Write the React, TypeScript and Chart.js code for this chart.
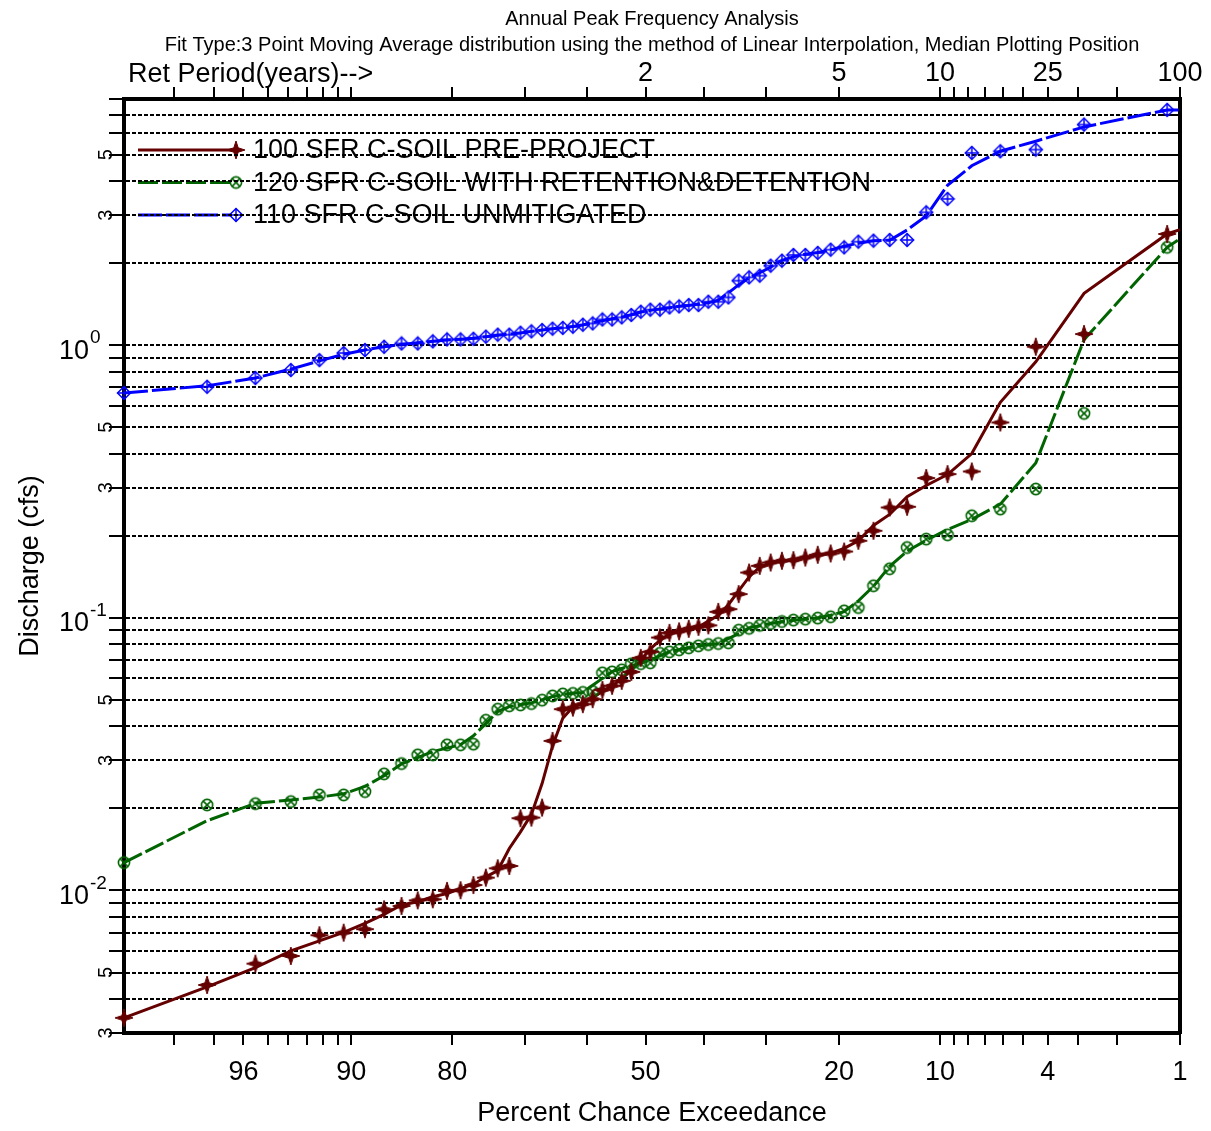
import React, { useEffect, useRef } from 'react';
import { Chart, registerables, LinearScale } from 'chart.js';

// ---------------- data ----------------
const exceedancePct = [
  98.841, 97.185, 95.530, 93.874, 92.219, 90.563, 88.907, 87.252, 85.596, 83.940,
  82.285, 80.629, 78.974, 77.318, 75.662, 74.007, 72.351, 70.695, 69.040, 67.384,
  65.728, 64.073, 62.417, 60.762, 59.106, 57.450, 55.795, 54.139, 52.483, 50.828,
  49.172, 47.517, 45.861, 44.205, 42.550, 40.894, 39.238, 37.583, 35.927, 34.272,
  32.616, 30.960, 29.305, 27.649, 25.993, 24.338, 22.682, 21.026, 19.371, 17.715,
  16.060, 14.404, 12.748, 11.093, 9.437, 7.781, 6.126, 4.470, 2.815, 1.159,
];
const fitEndPct = 1;

const preProject = [
  0.00341, 0.00450, 0.00539, 0.00575, 0.00685, 0.00700, 0.00721, 0.00853, 0.00877, 0.00920,
  0.00928, 0.00996, 0.01002, 0.01047, 0.01114, 0.01206, 0.01230, 0.01841, 0.01850, 0.02013,
  0.03537, 0.04624, 0.04686, 0.04823, 0.05031, 0.05441, 0.05629, 0.05872, 0.06335, 0.07131,
  0.07503, 0.08467, 0.08810, 0.08922, 0.09114, 0.09268, 0.09387, 0.1052, 0.1076, 0.1222,
  0.1466, 0.1551, 0.1595, 0.1619, 0.1628, 0.1664, 0.1703, 0.1722, 0.1751, 0.1917,
  0.2086, 0.2540, 0.2555, 0.3256, 0.3367, 0.3442, 0.5208, 0.9874, 1.099, 2.559,
];
const preProjectFit = [
  0.00341, 0.00443, 0.00521, 0.00600, 0.00653, 0.00702, 0.00758, 0.00817, 0.00884, 0.00909,
  0.00948, 0.00975, 0.01015, 0.01054, 0.01122, 0.01183, 0.01426, 0.01640, 0.01901, 0.02467,
  0.03391, 0.04282, 0.04711, 0.04847, 0.05098, 0.05367, 0.05647, 0.05945, 0.06446, 0.06990,
  0.07700, 0.08260, 0.08733, 0.08949, 0.09101, 0.09256, 0.09725, 0.1022, 0.1117, 0.1255,
  0.1413, 0.1537, 0.1588, 0.1614, 0.1637, 0.1665, 0.1696, 0.1725, 0.1797, 0.1918,
  0.2181, 0.2394, 0.2784, 0.3059, 0.3355, 0.4006, 0.6175, 0.8691, 1.549, 2.559, 2.654,
];

const retentionDetention = [
  0.01265, 0.02060, 0.02082, 0.02118, 0.02241, 0.02241, 0.02305, 0.02677, 0.02920, 0.03143,
  0.03143, 0.03420, 0.03420, 0.03440, 0.04212, 0.04624, 0.04754, 0.04794, 0.04847, 0.04988,
  0.05172, 0.05260, 0.05282, 0.05327, 0.05373, 0.06282, 0.06335, 0.06444, 0.06780, 0.06790,
  0.06838, 0.07409, 0.07503, 0.07631, 0.07761, 0.07893, 0.07980, 0.08048, 0.08097, 0.09013,
  0.09151, 0.09387, 0.09531, 0.09692, 0.09808, 0.09890, 0.09975, 0.1009, 0.1061, 0.1091,
  0.1311, 0.1513, 0.1811, 0.1944, 0.2016, 0.2367, 0.2505, 0.2967, 0.5620, 2.285,
];
const retentionDetentionFit = [
  0.01265, 0.01802, 0.02087, 0.02147, 0.02200, 0.02262, 0.02408, 0.02634, 0.02913, 0.03069,
  0.03235, 0.03328, 0.03427, 0.03691, 0.04092, 0.04530, 0.04724, 0.04798, 0.04876, 0.05002,
  0.05140, 0.05238, 0.05290, 0.05327, 0.05661, 0.05997, 0.06354, 0.06520, 0.06671, 0.06803,
  0.07012, 0.07250, 0.07514, 0.07632, 0.07762, 0.07878, 0.07974, 0.08042, 0.08386, 0.08754,
  0.09184, 0.09356, 0.09537, 0.09677, 0.09797, 0.09891, 0.09985, 0.1023, 0.1054, 0.1154,
  0.1305, 0.1545, 0.1756, 0.1924, 0.2109, 0.2296, 0.2613, 0.3697, 1.048, 2.285, 2.459,
];

const unmitigated = [
  0.668, 0.704, 0.758, 0.811, 0.882, 0.936, 0.960, 0.987, 1.015, 1.015,
  1.033, 1.050, 1.050, 1.056, 1.075, 1.093, 1.093, 1.111, 1.124, 1.137,
  1.150, 1.157, 1.169, 1.189, 1.202, 1.243, 1.243, 1.265, 1.291, 1.327,
  1.350, 1.350, 1.376, 1.388, 1.404, 1.404, 1.444, 1.444, 1.497, 1.725,
  1.774, 1.799, 1.958, 2.042, 2.143, 2.143, 2.180, 2.241, 2.285, 2.398,
  2.418, 2.432, 2.432, 3.072, 3.440, 5.074, 5.143, 5.217, 6.446, 7.296,
];
const unmitigatedFit = [
  0.668, 0.710, 0.758, 0.817, 0.876, 0.926, 0.961, 0.987, 1.006, 1.021,
  1.033, 1.044, 1.052, 1.060, 1.075, 1.087, 1.099, 1.109, 1.124, 1.137,
  1.148, 1.159, 1.172, 1.187, 1.211, 1.229, 1.250, 1.266, 1.294, 1.323,
  1.342, 1.359, 1.371, 1.389, 1.399, 1.417, 1.431, 1.462, 1.555, 1.665,
  1.766, 1.844, 1.933, 2.048, 2.109, 2.155, 2.188, 2.235, 2.308, 2.367,
  2.416, 2.427, 2.645, 2.981, 3.862, 4.552, 5.145, 5.602, 6.320, 7.296, 7.296,
];

const seriesNames = [
  '100 SFR C-SOIL PRE-PROJECT',
  '120 SFR C-SOIL WITH RETENTION&DETENTION',
  '110 SFR C-SOIL UNMITIGATED',
];

const xTickPct = [98, 97, 96, 95, 94, 93, 92, 91, 90, 80, 70, 60, 50, 40, 30, 20, 10, 9, 8, 7, 6, 5, 4, 3, 2, 1];
const bottomLabelPct = [96, 90, 80, 50, 20, 10, 4, 1];
const topLabelPct = [50, 20, 10, 4, 1];
const topLabels = ['2', '5', '10', '25', '100'];
const yTickValues = [
  0.003, 0.004, 0.005, 0.006, 0.007, 0.008, 0.009,
  0.01, 0.02, 0.03, 0.04, 0.05, 0.06, 0.07, 0.08, 0.09,
  0.1, 0.2, 0.3, 0.4, 0.5, 0.6, 0.7, 0.8, 0.9,
  1, 2, 3, 4, 5, 6, 7, 8,
];
const yDecadeValues = [0.01, 0.1, 1];
const yDecadeExponents = ['-2', '-1', '0'];
const yMinorLabelValues = [0.003, 0.005, 0.03, 0.05, 0.3, 0.5, 3, 5];
const yMinorLabels = ['3', '5', '3', '5', '3', '5', '3', '5'];

const titleLines = [
  'Annual Peak Frequency Analysis',
  'Fit Type:3 Point Moving Average distribution using the method of Linear Interpolation, Median Plotting Position',
];

// ---------------- styling ----------------
const FONT = '"Liberation Sans", Arial, Helvetica, sans-serif';
const RED = '#640000';
const GREEN = '#006400';
const BLUE = '#0000ff';
const GREEN_DASH = [20, 4];
const BLUE_DASH = [24, 4];

// ---------------- probability scale ----------------
function probit(p: number): number {
  const a = [-3.969683028665376e1, 2.209460984245205e2, -2.759285104469687e2, 1.38357751867269e2, -3.066479806614716e1, 2.506628277459239];
  const b = [-5.447609879822406e1, 1.615858368580409e2, -1.556989798598866e2, 6.680131188771972e1, -1.328068155288572e1];
  const c = [-7.784894002430293e-3, -3.223964580411365e-1, -2.400758277161838, -2.549732539343734, 4.374664141464968, 2.938163982698783];
  const d = [7.784695709041462e-3, 3.224671290700398e-1, 2.445134137142996, 3.754408661907416];
  const pl = 0.02425;
  if (p < pl) {
    const q = Math.sqrt(-2 * Math.log(p));
    return (((((c[0] * q + c[1]) * q + c[2]) * q + c[3]) * q + c[4]) * q + c[5]) / ((((d[0] * q + d[1]) * q + d[2]) * q + d[3]) * q + 1);
  }
  if (p > 1 - pl) {
    const q = Math.sqrt(-2 * Math.log(1 - p));
    return -(((((c[0] * q + c[1]) * q + c[2]) * q + c[3]) * q + c[4]) * q + c[5]) / ((((d[0] * q + d[1]) * q + d[2]) * q + d[3]) * q + 1);
  }
  const q = p - 0.5;
  const r = q * q;
  return ((((((a[0] * r + a[1]) * r + a[2]) * r + a[3]) * r + a[4]) * r + a[5]) * q) / (((((b[0] * r + b[1]) * r + b[2]) * r + b[3]) * r + b[4]) * r + 1);
}
const zOf = (pct: number) => probit(1 - pct / 100);

class ProbabilityScale extends (LinearScale as any) {
  static id = 'probability';
  static defaults = {};
  determineDataLimits() {
    this.min = this.options.min;
    this.max = this.options.max;
  }
  buildTicks() {
    return xTickPct.map((v) => ({ value: v }));
  }
  getPixelForValue(value: number) {
    const zl = zOf(this.max);
    const zr = zOf(this.min);
    return this.left + ((zOf(value) - zl) / (zr - zl)) * this.width;
  }
  getValueForPixel() {
    return 50;
  }
}

Chart.register(...registerables, ProbabilityScale as any);
Chart.defaults.font.family = FONT;

// ---------------- markers ----------------
function makeStar(color: string) {
  const cv = document.createElement('canvas');
  cv.width = 22; cv.height = 22;
  const g = cv.getContext('2d')!;
  g.translate(11, 11);
  g.fillStyle = color; g.strokeStyle = color; g.lineWidth = 1;
  const R = 9, r = 2.2;
  g.beginPath();
  g.moveTo(0, -R); g.lineTo(r, -r); g.lineTo(R, 0); g.lineTo(r, r);
  g.lineTo(0, R); g.lineTo(-r, r); g.lineTo(-R, 0); g.lineTo(-r, -r);
  g.closePath(); g.fill(); g.stroke();
  return cv;
}
function makeCircleX(color: string) {
  const cv = document.createElement('canvas');
  cv.width = 16; cv.height = 16;
  const g = cv.getContext('2d')!;
  g.translate(8, 8);
  g.strokeStyle = color; g.lineWidth = 1.6;
  g.beginPath(); g.arc(0, 0, 5.6, 0, Math.PI * 2); g.stroke();
  const k = 3.9;
  g.beginPath(); g.moveTo(-k, -k); g.lineTo(k, k); g.moveTo(k, -k); g.lineTo(-k, k); g.stroke();
  return cv;
}
function makeDiamondPlus(color: string) {
  const cv = document.createElement('canvas');
  cv.width = 16; cv.height = 16;
  const g = cv.getContext('2d')!;
  g.translate(8, 8);
  g.strokeStyle = color; g.lineWidth = 1.5;
  const h = 6.5;
  g.beginPath(); g.moveTo(0, -h); g.lineTo(h, 0); g.lineTo(0, h); g.lineTo(-h, 0); g.closePath(); g.stroke();
  g.beginPath(); g.moveTo(0, -h); g.lineTo(0, h); g.moveTo(-h, 0); g.lineTo(h, 0); g.stroke();
  return cv;
}

// ---------------- plugins ----------------
const legendPlugin = {
  id: 'insideLegend',
  beforeDraw(chart: any) {
    const { ctx, chartArea } = chart;
    const items = (chart.$legendItems || []) as any[];
    ctx.save();
    items.forEach((it, i) => {
      const y = chartArea.top + 51 + i * 32.5;
      ctx.strokeStyle = it.color;
      ctx.lineWidth = 3;
      ctx.setLineDash(it.dash);
      ctx.beginPath();
      ctx.moveTo(chartArea.left + 14, y);
      ctx.lineTo(chartArea.left + 108, y);
      ctx.stroke();
      ctx.setLineDash([]);
      const m = it.marker as HTMLCanvasElement;
      ctx.drawImage(m, chartArea.left + 112 - m.width / 2, y - m.height / 2);
      ctx.fillStyle = '#000';
      ctx.font = `27px ${FONT}`;
      ctx.textAlign = 'left';
      ctx.textBaseline = 'middle';
      ctx.fillText(it.text, chartArea.left + 129, y + 1);
    });
    ctx.restore();
  },
};

const axisTextPlugin = {
  id: 'axisText',
  afterDraw(chart: any) {
    const { ctx, chartArea } = chart;
    const ys = chart.scales.y;
    ctx.save();
    ctx.fillStyle = '#000';
    yDecadeValues.forEach((v, i) => {
      const py = ys.getPixelForValue(v);
      ctx.font = `27px ${FONT}`;
      ctx.textAlign = 'right';
      ctx.textBaseline = 'middle';
      ctx.fillText('10', chartArea.left - 35, py + 6);
      ctx.font = `19px ${FONT}`;
      ctx.textAlign = 'left';
      ctx.fillText(yDecadeExponents[i], chartArea.left - 34, py - 7);
    });
    yMinorLabelValues.forEach((v, i) => {
      const py = ys.getPixelForValue(v);
      ctx.save();
      ctx.translate(chartArea.left - 18, py);
      ctx.rotate(-Math.PI / 2);
      ctx.font = `20px ${FONT}`;
      ctx.textAlign = 'center';
      ctx.textBaseline = 'middle';
      ctx.fillText(yMinorLabels[i], 0, 0);
      ctx.restore();
    });
    ctx.font = `27px ${FONT}`;
    ctx.textAlign = 'left';
    ctx.textBaseline = 'middle';
    ctx.fillText('Ret Period(years)-->', chartArea.left + 4, 75);
    ctx.restore();
  },
};

export default function App() {
  const ref = useRef<HTMLCanvasElement>(null);
  useEffect(() => {
    const star = makeStar(RED);
    const circ = makeCircleX(GREEN);
    const diam = makeDiamondPlus(BLUE);
    const fitX = [...exceedancePct, fitEndPct];
    const pts = (xs: number[], ys: number[]) => ys.map((y, i) => ({ x: xs[i], y }));

    const datasets: any[] = [
      { label: seriesNames[0], data: pts(exceedancePct, preProject), showLine: false, pointStyle: star, pointRadius: 8, order: 1, clip: false },
      { label: seriesNames[1], data: pts(exceedancePct, retentionDetention), showLine: false, pointStyle: circ, pointRadius: 6, order: 2, clip: false },
      { label: seriesNames[2], data: pts(exceedancePct, unmitigated), showLine: false, pointStyle: diam, pointRadius: 7, order: 3, clip: false },
      { label: seriesNames[0] + ' fit', data: pts(fitX, preProjectFit), showLine: true, borderColor: RED, borderWidth: 3, pointRadius: 0, tension: 0, order: 4, clip: false },
      { label: seriesNames[1] + ' fit', data: pts(fitX, retentionDetentionFit), showLine: true, borderColor: GREEN, borderWidth: 3, borderDash: GREEN_DASH, pointRadius: 0, tension: 0, order: 5, clip: false },
      { label: seriesNames[2] + ' fit', data: pts(fitX, unmitigatedFit), showLine: true, borderColor: BLUE, borderWidth: 3, borderDash: BLUE_DASH, pointRadius: 0, tension: 0, order: 6, clip: false },
    ];

    const tickFont = { size: 27, family: FONT, lineHeight: 1 };
    const xGrid = { drawOnChartArea: false, drawTicks: true, tickLength: 12, tickWidth: 2, lineWidth: 2, color: '#000', tickColor: '#000' };
    const xMax = exceedancePct[0];

    const chart = new Chart(ref.current as HTMLCanvasElement, {
      type: 'scatter',
      data: { datasets },
      options: {
        animation: false,
        responsive: false,
        events: [],
        layout: { padding: { left: 0, right: 31, top: 0, bottom: 0 } },
        plugins: {
          legend: { display: false },
          tooltip: { enabled: false },
          title: {
            display: true,
            fullSize: false,
            text: titleLines,
            color: '#000',
            font: { size: 20, family: FONT, weight: 'normal', lineHeight: 1.3 },
            padding: { top: 6, bottom: 0 },
          },
        },
        scales: {
          x: {
            type: 'probability',
            position: 'bottom',
            min: fitEndPct,
            max: xMax,
            grid: xGrid,
            border: { display: true, width: 4, color: '#000' },
            ticks: {
              autoSkip: false, maxRotation: 0, minRotation: 0, padding: 14, color: '#000', font: tickFont,
              callback: (v: number) => (bottomLabelPct.includes(v) ? String(v) : ''),
            },
            title: { display: true, text: 'Percent Chance Exceedance', color: '#000', font: { size: 27, family: FONT, lineHeight: 1.2 }, padding: { top: 0, bottom: 1 } },
            afterFit: (s: any) => { s.height = 98; },
          },
          x2: {
            type: 'probability',
            position: 'top',
            min: fitEndPct,
            max: xMax,
            grid: xGrid,
            border: { display: true, width: 4, color: '#000' },
            ticks: {
              autoSkip: false, maxRotation: 0, minRotation: 0, padding: 0, color: '#000', font: tickFont,
              callback: (v: number) => { const i = topLabelPct.indexOf(v); return i >= 0 ? topLabels[i] : ''; },
            },
            afterFit: (s: any) => { s.height = 41; },
          },
          y: {
            type: 'logarithmic',
            position: 'left',
            min: 0.003,
            max: 8,
            afterBuildTicks: (s: any) => { s.ticks = yTickValues.map((v) => ({ value: v })); },
            grid: { drawOnChartArea: true, drawTicks: true, tickLength: 15, tickWidth: 2, lineWidth: 2, color: '#000', tickColor: '#000', tickBorderDash: [] },
            border: { display: true, width: 4, color: '#000', dash: [4, 2] },
            ticks: { display: false },
            title: { display: true, text: 'Discharge (cfs)', color: '#000', font: { size: 27, family: FONT, lineHeight: 1.2 }, padding: { top: 14, bottom: 0 } },
            afterFit: (s: any) => { s.width = 124; },
          },
          y2: {
            type: 'logarithmic',
            position: 'right',
            min: 0.003,
            max: 8,
            afterBuildTicks: (s: any) => { s.ticks = yTickValues.map((v) => ({ value: v })); },
            grid: { drawOnChartArea: false, drawTicks: true, tickLength: -18, tickWidth: 2, lineWidth: 2, color: '#000', tickColor: '#000' },
            border: { display: true, width: 4, color: '#000' },
            ticks: { display: false },
            afterFit: (s: any) => { s.width = 0; },
          },
        },
      } as any,
      plugins: [legendPlugin, axisTextPlugin],
    });
    (chart as any).$legendItems = [
      { text: seriesNames[0], color: RED, dash: [], marker: star },
      { text: seriesNames[1], color: GREEN, dash: GREEN_DASH, marker: circ },
      { text: seriesNames[2], color: BLUE, dash: BLUE_DASH, marker: diam },
    ];
    chart.draw();
    return () => chart.destroy();
  }, []);

  return (
    <div style={{ position: 'fixed', left: 0, top: 0, width: 1211, height: 1131, background: '#fff' }}>
      <canvas ref={ref} width={1211} height={1131} style={{ display: 'block', width: 1211, height: 1131 }} />
    </div>
  );
}
